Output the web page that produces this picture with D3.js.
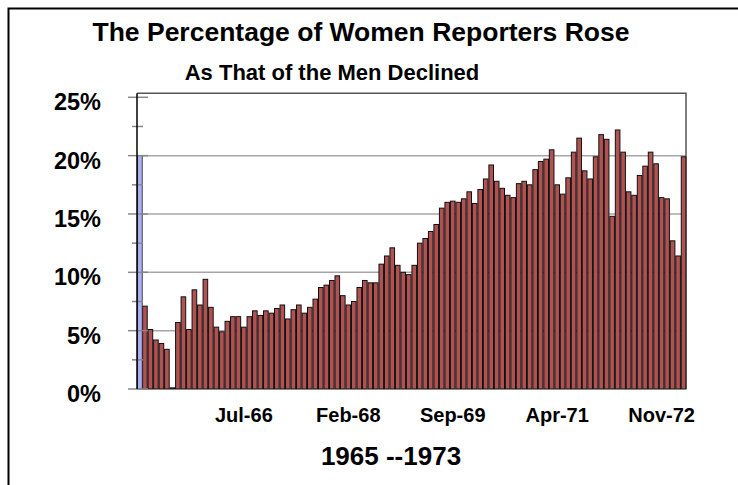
<!DOCTYPE html>
<html>
<head>
<meta charset="utf-8">
<script src="https://cdn.jsdelivr.net/npm/d3@7"></script>
<style>
	body { margin: 0; background: #fff; }
	text { font-family: "Liberation Sans", Arial, sans-serif; font-weight: bold; fill: #000; }
</style>
</head>
<body>
<svg id="chart" width="738" height="485"></svg>
<script>
// monthly categories, Dec-64 .. Mar-73
var months = d3.timeMonth.range(new Date(1964, 11, 1), new Date(1973, 3, 1)).map(d3.timeFormat("%b-%y"))

// the lone blue bar
var refMonths = ["Dec-64"]
var refValues = [20]

// women reporters, % of total, Jan-65 .. Mar-73
var womenPct = [
	7.1, 5.1, 4.2, 3.9, 3.4, 0.1, 5.7, 7.9, 5.1, 8.5, 7.2, 9.4, 7.0, 5.3, 4.9, 5.8, 6.2, 6.2, 5.3,
	6.2, 6.7, 6.3, 6.7, 6.5, 6.9, 7.2, 6.0, 6.8, 7.2, 6.5, 7.0, 7.7, 8.7, 8.9, 9.3, 9.7, 8.0, 7.2, 7.5,
	8.7, 9.3, 9.1, 9.1, 10.7, 11.4, 12.1, 10.6, 10.0, 9.8, 10.6, 12.5, 12.9, 13.5, 14.1, 15.5, 16.0, 16.1, 16.0, 16.3,
	16.9, 15.9, 17.1, 18.0, 19.2, 17.8, 17.2, 16.6, 16.4, 17.6, 17.8, 17.5, 18.8, 19.5, 19.7, 20.5, 17.5, 16.7, 18.1, 20.3,
	21.5, 18.7, 18.0, 19.9, 21.8, 21.4, 14.8, 22.2, 20.3, 16.9, 16.6, 18.3, 19.1, 20.3, 19.3, 16.4, 16.3, 12.7, 11.4, 19.9
]

var tickLabels = ["Jul-66", "Feb-68", "Sep-69", "Apr-71", "Nov-72"]
var yTicks = [0, 5, 10, 15, 20, 25]
var yMinor = [2.5, 7.5, 12.5, 17.5, 22.5]
var gridVals = [5, 10, 15, 20]

var svg = d3.select("#chart")

var x = d3.scaleBand()
	.domain(months)
	.range([137, 686])
	.paddingInner(0.16)
	.paddingOuter(0.02)

var y = d3.scaleLinear()
	.domain([0, 25])
	.range([389, 97.3])

// outer frame (left + top edges)
svg.append("path")
	.attr("d", "M8.5,485V8.5H738")
	.attr("fill", "none")
	.attr("stroke", "#000")
	.attr("stroke-width", 2)

svg.append("text")
	.attr("x", 361)
	.attr("y", 41)
	.attr("text-anchor", "middle")
	.style("font-size", "26.5px")
	.text("The Percentage of Women Reporters Rose")

svg.append("text")
	.attr("x", 332)
	.attr("y", 80)
	.attr("text-anchor", "middle")
	.style("font-size", "22px")
	.text("As That of the Men Declined")

// gridlines
svg.append("g")
	.selectAll("line")
	.data(gridVals)
	.join("line")
	.attr("x1", 137)
	.attr("x2", 686)
	.attr("y1", d => y(d))
	.attr("y2", d => y(d))
	.attr("stroke", "#a6a6a6")
	.attr("stroke-width", 1.5)

// plot frame top + right
svg.append("path")
	.attr("d", "M137," + y(25.35) + "H686V" + y(0))
	.attr("fill", "none")
	.attr("stroke", "#555")
	.attr("stroke-width", 1.5)

// bars
svg.append("g")
	.selectAll("rect")
	.data(womenPct.map((v, i) => ({m: months[i + 1], v: v})))
	.join("rect")
	.attr("x", d => x(d.m))
	.attr("width", x.bandwidth())
	.attr("y", d => y(d.v))
	.attr("height", d => y(0) - y(d.v))
	.attr("fill", "#b05252")
	.attr("stroke", "#111")
	.attr("stroke-width", 1)

svg.append("g")
	.selectAll("rect")
	.data(refValues.map((v, i) => ({m: refMonths[i], v: v})))
	.join("rect")
	.attr("x", d => x(d.m) + 0.5)
	.attr("width", x.bandwidth())
	.attr("y", d => y(d.v))
	.attr("height", d => y(0) - y(d.v))
	.attr("fill", "#aab0f4")
	.attr("stroke", "#222")
	.attr("stroke-width", 0.8)

// y axis: tick marks crossing the axis line
svg.append("g")
	.selectAll("line")
	.data(yTicks)
	.join("line")
	.attr("x1", 128)
	.attr("x2", 148)
	.attr("y1", d => y(d))
	.attr("y2", d => y(d))
	.attr("stroke", "#888")
	.attr("stroke-width", 1.5)

svg.append("g")
	.selectAll("line")
	.data(yMinor)
	.join("line")
	.attr("x1", 132)
	.attr("x2", 143)
	.attr("y1", d => y(d))
	.attr("y2", d => y(d))
	.attr("stroke", "#888")
	.attr("stroke-width", 1.5)

svg.append("line")
	.attr("x1", 137)
	.attr("x2", 137)
	.attr("y1", y(25.35))
	.attr("y2", y(0))
	.attr("stroke", "#000")
	.attr("stroke-width", 1.5)

var yAxis = svg.append("g")
	.attr("transform", "translate(137,5)")
	.call(d3.axisLeft(y).tickValues(yTicks).tickFormat(d => d + "%").tickSize(0).tickPadding(36))

yAxis.select(".domain").remove()
yAxis.selectAll("text")
	.style("font-size", "23.5px")
	.style("font-family", "'Liberation Sans', Arial, sans-serif")

var xAxis = svg.append("g")
	.attr("transform", "translate(0," + y(0) + ")")
	.call(d3.axisBottom(x).tickValues(tickLabels).tickSize(0).tickPadding(19))

xAxis.select(".domain").remove()
xAxis.selectAll("text")
	.style("font-size", "20px")
	.style("font-family", "'Liberation Sans', Arial, sans-serif")

svg.append("text")
	.attr("x", 391)
	.attr("y", 465)
	.attr("text-anchor", "middle")
	.style("font-size", "26px")
	.text("1965 --1973")
</script>
</body>
</html>
